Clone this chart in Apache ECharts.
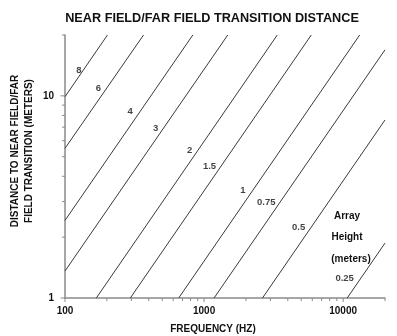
<!DOCTYPE html>
<html>
<head>
<meta charset="utf-8">
<script src="https://cdn.jsdelivr.net/npm/echarts@6/dist/echarts.min.js"></script>
<style>
html,body{margin:0;padding:0;background:#fff;}
#chart{width:397px;height:336px;}
</style>
</head>
<body>
<div id="chart"></div>
<script>
// Array heights (meters) labelling each transition line
const heights = ['8', '6', '4', '3', '2', '1.5', '1', '0.75', '0.5', '0.25'];
// Each line: start and end point [frequency Hz, distance m]
const lineStart = [[100, 9.9], [100, 5.5], [100, 2.42], [100, 1.36], [168, 1], [295, 1], [657, 1], [1180, 1], [2630, 1], [10700, 1]];
const lineEnd = [[202, 20], [367, 20], [830, 20], [1480, 20], [3360, 20], [5900, 20], [13150, 20], [20000, 16.9], [20000, 7.6], [20000, 1.87]];
// Where each height label sits [frequency, distance]
const labelAt = [[125.7, 13.34], [174, 10.9], [294, 8.36], [448, 6.92], [787, 5.4], [1095, 4.47], [1901, 3.39], [2802, 2.98], [4786, 2.23], [10250, 1.256]];
// Axis ticks
const xMajorTicks = [100, 1000, 10000];
const xMinorTicks = [200, 300, 400, 500, 600, 700, 800, 900, 2000, 3000, 4000, 5000, 6000, 7000, 8000, 9000, 20000];
const yMajorTicks = [1, 10];
const yMinorTicks = [2, 3, 4, 5, 6, 7, 8, 9, 20];

const FONT = '"Liberation Sans", Arial, Helvetica, sans-serif';
const AXIS_COLOR = '#8a8a8a';
const LINE_COLOR = '#3a3a3a';

const chart = echarts.init(document.getElementById('chart'), null, {renderer: 'canvas'});

const lineSeries = heights.map((h, i) => ({
  type: 'line',
  name: h,
  data: [lineStart[i], lineEnd[i]],
  symbol: 'none',
  lineStyle: {color: LINE_COLOR, width: 1},
  silent: true,
  animation: false,
  z: 3
}));

const tickRender = (dir, len) => (params, api) => {
  const p = api.coord([api.value(0), api.value(1)]);
  const shape = dir === 'x'
    ? {x1: p[0], y1: p[1], x2: p[0], y2: p[1] + len}
    : {x1: p[0], y1: p[1], x2: p[0] - len, y2: p[1]};
  return {type: 'line', shape: shape, style: {stroke: AXIS_COLOR, lineWidth: 1}};
};

const option = {
  animation: false,
  backgroundColor: '#ffffff',
  grid: {left: 65, right: 12, top: 35, bottom: 38, containLabel: false},
  xAxis: {
    type: 'log', logBase: 10, min: 100, max: 20000,
    axisLine: {show: true, lineStyle: {color: AXIS_COLOR, width: 1.5}},
    axisTick: {show: false},
    splitLine: {show: false},
    axisLabel: {
      margin: 8,
      color: '#111', fontFamily: FONT, fontSize: 10, fontWeight: 'bold',
      formatter: v => (xMajorTicks.indexOf(Math.round(v)) >= 0 ? String(Math.round(v)) : '')
    }
  },
  yAxis: {
    type: 'log', logBase: 10, min: 1, max: 20,
    axisLine: {show: true, lineStyle: {color: AXIS_COLOR, width: 1.5}},
    axisTick: {show: false},
    splitLine: {show: false},
    axisLabel: {
      margin: 11,
      color: '#111', fontFamily: FONT, fontSize: 10, fontWeight: 'bold',
      formatter: v => (yMajorTicks.indexOf(Math.round(v)) >= 0 ? String(Math.round(v)) : '')
    }
  },
  title: {
    text: 'NEAR FIELD/FAR FIELD TRANSITION DISTANCE',
    left: 207, top: 7, textAlign: 'center',
    textStyle: {fontFamily: FONT, fontSize: 12.7, fontWeight: 'bold', color: '#111'}
  },
  graphic: [
    {type: 'text', x: 213, y: 329, style: {text: 'FREQUENCY (HZ)', font: 'bold 10px ' + FONT, fill: '#111', textAlign: 'center', textVerticalAlign: 'middle'}},
    {type: 'text', x: 22, y: 151, rotation: Math.PI / 2, style: {text: 'DISTANCE TO NEAR FIELD/FAR\nFIELD TRANSITION (METERS)', font: 'bold 10px ' + FONT, lineHeight: 14, fill: '#111', textAlign: 'center', textVerticalAlign: 'middle'}},
    {type: 'text', x: 347, y: 216, style: {text: 'Array', font: 'bold 10px ' + FONT, fill: '#111', textAlign: 'center', textVerticalAlign: 'middle'}},
    {type: 'text', x: 347, y: 237, style: {text: 'Height', font: 'bold 10px ' + FONT, fill: '#111', textAlign: 'center', textVerticalAlign: 'middle'}},
    {type: 'text', x: 351, y: 259, style: {text: '(meters)', font: 'bold 10px ' + FONT, fill: '#111', textAlign: 'center', textVerticalAlign: 'middle'}}
  ],
  series: lineSeries.concat([
    {
      type: 'scatter',
      symbolSize: 0,
      silent: true,
      data: heights.map((h, i) => ({name: h, value: labelAt[i]})),
      label: {show: true, position: 'inside', formatter: p => p.name, color: '#111', fontFamily: FONT, fontSize: 9.5, fontWeight: 'bold'},
      z: 4
    },
    {type: 'custom', clip: false, silent: true, data: xMajorTicks.map(v => [v, 1]), renderItem: tickRender('x', 4), z: 5},
    {type: 'custom', clip: false, silent: true, data: xMinorTicks.map(v => [v, 1]), renderItem: tickRender('x', 3), z: 5},
    {type: 'custom', clip: false, silent: true, data: yMajorTicks.map(v => [100, v]), renderItem: tickRender('y', 4.5), z: 5},
    {type: 'custom', clip: false, silent: true, data: yMinorTicks.map(v => [100, v]), renderItem: tickRender('y', 3), z: 5}
  ])
};

chart.setOption(option);
</script>
</body>
</html>
